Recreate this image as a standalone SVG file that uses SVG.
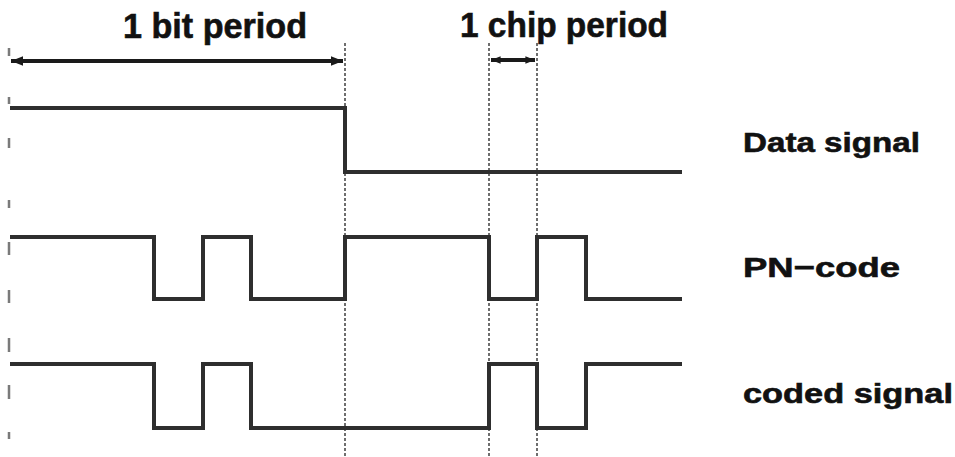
<svg xmlns="http://www.w3.org/2000/svg" width="955" height="457" viewBox="0 0 955 457">
<style>
.sig{fill:none;stroke:#2e2e2e;stroke-width:4;stroke-linejoin:miter;stroke-linecap:butt}
.dot{fill:none;stroke:#6e6e6e;stroke-width:2;stroke-dasharray:3 2}
.ldot{fill:none;stroke:#7a7a7a;stroke-width:2.5}
.dim{fill:none;stroke:#1a1a1a;stroke-width:4}
.t{font-family:"Liberation Sans",Arial,Helvetica,sans-serif;font-weight:bold;fill:#111;stroke:#111;stroke-width:0.6}
</style>
<defs>
<marker id="ah" viewBox="0 0 10 8" refX="10" refY="4" markerWidth="3.2" markerHeight="2.4" orient="auto-start-reverse" markerUnits="strokeWidth">
<path d="M0,0 L10,4 L0,8 z" fill="#1a1a1a"/>
</marker>
<marker id="ahs" viewBox="0 0 10 8" refX="10" refY="4" markerWidth="2.4" markerHeight="2" orient="auto-start-reverse" markerUnits="strokeWidth">
<path d="M0,0 L10,4 L0,8 z" fill="#1a1a1a"/>
</marker>
</defs>
<rect width="955" height="457" fill="#fff"/>
<g id="guides">
<path class="ldot" d="M9,48V56M9,97V104M9,138V148M9,200V208M9,242V255M9,290V303M9,338V352M9,385V399M9,432V439"/>
<path class="dot" d="M345,43V457M489,43V457M537,43V457"/>
</g>
<g id="connectors">
<line class="dim" x1="11" y1="61" x2="343" y2="61" marker-start="url(#ah)" marker-end="url(#ah)"/>
<line class="dim" x1="491" y1="60" x2="535" y2="60" marker-start="url(#ahs)" marker-end="url(#ahs)"/>
</g>
<g id="bit-period-label"><text class="t" x="123" y="38" font-size="35" textLength="184" lengthAdjust="spacingAndGlyphs">1 bit period</text></g>
<g id="chip-period-label"><text class="t" x="460" y="37" font-size="35" textLength="208" lengthAdjust="spacingAndGlyphs">1 chip period</text></g>
<g id="data-signal">
<path class="sig" d="M10,108H345V172H682"/>
<text class="t" x="743" y="152" font-size="28" textLength="177" lengthAdjust="spacingAndGlyphs">Data signal</text>
</g>
<g id="pn-code">
<path class="sig" d="M10,237H154V299H203V237H251V299H345V237H489V299H537V237H586V299H682"/>
<text class="t" x="743" y="277" font-size="28" textLength="157" lengthAdjust="spacingAndGlyphs">PN−code</text>
</g>
<g id="coded-signal">
<path class="sig" d="M10,364H154V428H203V364H251V428H489V364H537V428H586V364H682"/>
<text class="t" x="743" y="403" font-size="28" textLength="210" lengthAdjust="spacingAndGlyphs">coded signal</text>
</g>
</svg>
